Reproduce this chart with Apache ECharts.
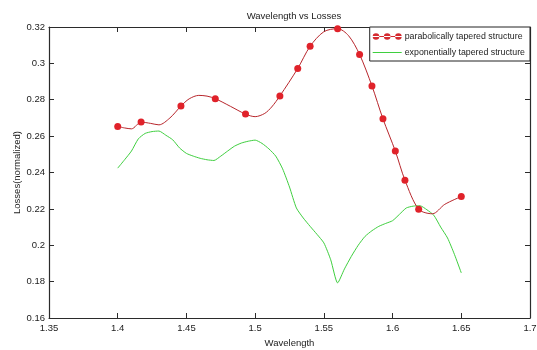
<!DOCTYPE html>
<html>
<head>
<meta charset="utf-8">
<script src="https://cdn.jsdelivr.net/npm/echarts@6/dist/echarts.min.js"></script>
<style>
  html, body { margin: 0; padding: 0; background: #fff; }
  #chart { width: 537px; height: 350px; }
</style>
</head>
<body>
<div id="chart"></div>
<script>
// Wavelength samples and normalized losses, parabolic taper (1 = marked sample)
const redX = [1.400, 1.405, 1.410, 1.417, 1.424, 1.430, 1.438, 1.446, 1.452, 1.459,
              1.465, 1.471, 1.482, 1.493, 1.500, 1.507, 1.512, 1.518, 1.531, 1.540,
              1.550, 1.560, 1.568, 1.576, 1.585, 1.593, 1.602, 1.609, 1.619, 1.629,
              1.638, 1.650];
const redY = [0.2653, 0.2645, 0.2640, 0.2677, 0.2670, 0.2662, 0.2700, 0.2765, 0.2805, 0.2824,
              0.2820, 0.2806, 0.2764, 0.2721, 0.2707, 0.2725, 0.2760, 0.2821, 0.2972, 0.3094,
              0.3174, 0.3191, 0.3152, 0.3049, 0.2876, 0.2695, 0.2518, 0.2358, 0.2198, 0.2173,
              0.2225, 0.2268];
const redMarked = [1, 0, 0, 1, 0, 0, 0, 1, 0, 0,
                   0, 1, 0, 1, 0, 0, 0, 1, 1, 1,
                   0, 1, 0, 1, 1, 1, 1, 1, 1, 0,
                   0, 1];

// Exponential taper
const greenX = [1.400, 1.405, 1.410, 1.415, 1.420, 1.425, 1.430, 1.435, 1.440, 1.445,
                1.450, 1.455, 1.460, 1.465, 1.470, 1.475, 1.480, 1.485, 1.490, 1.495,
                1.500, 1.505, 1.510, 1.515, 1.520, 1.525, 1.530, 1.535, 1.540, 1.545,
                1.550, 1.555, 1.560, 1.565, 1.570, 1.575, 1.580, 1.585, 1.590, 1.595,
                1.600, 1.605, 1.610, 1.615, 1.620, 1.625, 1.630, 1.635, 1.640, 1.645,
                1.650];
const greenY = [0.2424, 0.2470, 0.2518, 0.2585, 0.2615, 0.2625, 0.2628, 0.2605, 0.2580, 0.2535,
                0.2505, 0.2490, 0.2478, 0.2470, 0.2466, 0.2490, 0.2518, 0.2545, 0.2562, 0.2572,
                0.2578, 0.2560, 0.2530, 0.2490, 0.2420, 0.2320, 0.2205, 0.2150, 0.2104, 0.2060,
                0.2013, 0.1920, 0.1793, 0.1870, 0.1939, 0.2000, 0.2049, 0.2080, 0.2104, 0.2120,
                0.2135, 0.2170, 0.2205, 0.2215, 0.2217, 0.2195, 0.2165, 0.2100, 0.2040, 0.1950,
                0.1848];

const seriesNames = ['parabolically tapered structure', 'exponentially tapered structure'];
const titleText = 'Wavelength vs Losses';
const xName = 'Wavelength';
const yName = 'Losses(normalized)';

const FONT = '"Liberation Sans", Arial, sans-serif';
const AXIS = '#2b2b2b';
const TXT = '#222';

const redData = redX.map((x, i) => ({
  value: [x, redY[i]],
  symbol: redMarked[i] ? 'circle' : 'none'
}));
const greenData = greenX.map((x, i) => [x, greenY[i]]);

// legend glyphs: a plain line, and a line carrying three dots
const plainLine = 'path://M0,3.1 H30 V3.9 H0 Z M0,0 H0.01 V7 H0 Z';
const dotLine = 'path://M0,3.1 H30 V3.9 H0 Z' +
  ' M0,3.5 a3.4,3.4 0 1,0 6.8,0 a3.4,3.4 0 1,0 -6.8,0' +
  ' M11.6,3.5 a3.4,3.4 0 1,0 6.8,0 a3.4,3.4 0 1,0 -6.8,0' +
  ' M23.2,3.5 a3.4,3.4 0 1,0 6.8,0 a3.4,3.4 0 1,0 -6.8,0';

const mirrorAxis = {
  axisLine: { show: true, onZero: false, lineStyle: { color: AXIS, width: 1.2 } },
  axisTick: { show: true, inside: true, length: 5, lineStyle: { color: AXIS } },
  axisLabel: { show: false },
  splitLine: { show: false }
};

const chart = echarts.init(document.getElementById('chart'), null, { renderer: 'canvas' });
chart.setOption({
  animation: false,
  backgroundColor: '#fff',
  textStyle: { fontFamily: FONT },
  title: {
    text: titleText,
    left: 289, top: 6, textAlign: 'center',
    textStyle: { fontFamily: FONT, fontSize: 9.5, fontWeight: 'normal', color: TXT }
  },
  legend: {
    orient: 'vertical',
    right: 7, top: 27,
    backgroundColor: '#fff',
    borderColor: '#222', borderWidth: 1, borderRadius: 0,
    padding: [5, 5, 4, 3],
    itemGap: 7,
    itemWidth: 29, itemHeight: 7,
    textStyle: { fontFamily: FONT, fontSize: 8.8, color: TXT, padding: [0, 0, 0, -2] },
    data: [
      { name: seriesNames[0], icon: dotLine, itemStyle: { color: '#d42a30' } },
      { name: seriesNames[1], icon: plainLine, itemStyle: { color: '#3fcf3f' } }
    ]
  },
  grid: { left: 49, right: 7, top: 27, bottom: 32, containLabel: false, outerBoundsMode: 'none' },
  xAxis: [{
    type: 'value', min: 1.35, max: 1.7, interval: 0.05,
    position: 'bottom',
    name: xName, nameLocation: 'middle', nameGap: 20,
    nameTextStyle: { fontFamily: FONT, fontSize: 9.5, color: TXT },
    axisLine: { show: true, onZero: false, lineStyle: { color: AXIS, width: 1.2 } },
    axisTick: { show: true, inside: true, length: 5, lineStyle: { color: AXIS } },
    axisLabel: { fontFamily: FONT, fontSize: 9.5, color: TXT, margin: 5 },
    splitLine: { show: false }
  }, Object.assign({
    type: 'value', min: 1.35, max: 1.7, interval: 0.05, position: 'top'
  }, mirrorAxis)],
  yAxis: [{
    type: 'value', min: 0.16, max: 0.32, interval: 0.02,
    position: 'left',
    name: yName, nameLocation: 'middle', nameGap: 27, nameRotate: 90,
    nameMoveOverlap: false,
    nameTextStyle: { fontFamily: FONT, fontSize: 9.5, color: TXT },
    axisLine: { show: true, onZero: false, lineStyle: { color: AXIS, width: 1.2 } },
    axisTick: { show: true, inside: true, length: 5, lineStyle: { color: AXIS } },
    axisLabel: { fontFamily: FONT, fontSize: 9.5, color: TXT, margin: 4 },
    splitLine: { show: false }
  }, Object.assign({
    type: 'value', min: 0.16, max: 0.32, interval: 0.02, position: 'right'
  }, mirrorAxis)],
  series: [{
    name: seriesNames[0],
    type: 'line',
    xAxisIndex: 0, yAxisIndex: 0,
    data: redData,
    smooth: 0.3,
    showAllSymbol: true,
    symbol: 'circle',
    symbolSize: 7,
    lineStyle: { color: '#b8262c', width: 1 },
    itemStyle: { color: '#e0222a' },
    z: 3
  }, {
    name: seriesNames[1],
    type: 'line',
    xAxisIndex: 0, yAxisIndex: 0,
    data: greenData,
    smooth: 0.2,
    symbol: 'none',
    lineStyle: { color: '#3fcf3f', width: 1 },
    itemStyle: { color: '#3fcf3f' },
    z: 2
  }]
});
</script>
</body>
</html>
